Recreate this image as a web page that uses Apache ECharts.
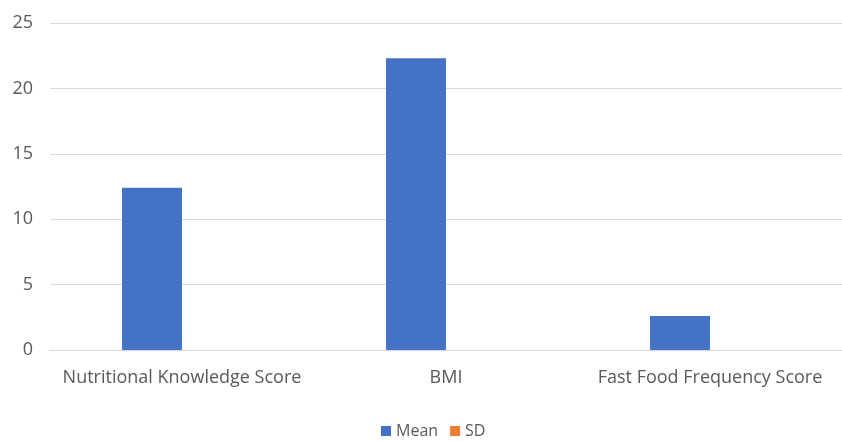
<!DOCTYPE html>
<html>
<head>
<meta charset="utf-8">
<script src="https://cdn.jsdelivr.net/npm/echarts@6/dist/echarts.min.js"></script>
<style>
  html, body { margin: 0; padding: 0; background: #fff; }
  #main { width: 842px; height: 441px; }
</style>
</head>
<body>
<div id="main"></div>
<script>
  // categories and series
  var categories = ['Nutritional Knowledge Score', 'BMI', 'Fast Food Frequency Score'];
  var meanData = [12.4, 22.3, 2.6];
  var sdData = [0, 0, 0];
  var yTicks = { min: 0, max: 25, interval: 5 };

  var font = '"Open Sans", "Liberation Sans", sans-serif';
  var textColor = '#595959';

  var option = {
    animation: false,
    grid: { left: 50, right: 0, top: 23, bottom: 91, containLabel: false },
    legend: {
      data: ['Mean', 'SD'],
      top: 418,
      left: 376,
      icon: 'rect',
      itemWidth: 10,
      itemHeight: 10,
      itemGap: 12,
      itemTextGap: 4,
      textStyle: { color: textColor, fontSize: 16, fontFamily: font }
    },
    xAxis: {
      type: 'category',
      data: categories,
      axisLine: { lineStyle: { color: '#d9d9d9' } },
      axisTick: { show: false },
      axisLabel: { color: textColor, fontSize: 18, fontFamily: font, margin: 19, interval: 0 }
    },
    yAxis: {
      type: 'value',
      min: yTicks.min,
      max: yTicks.max,
      interval: yTicks.interval,
      axisLine: { show: false },
      axisTick: { show: false },
      splitLine: { lineStyle: { color: '#d9d9d9' } },
      axisLabel: { color: textColor, fontSize: 18, fontFamily: font, margin: 17 }
    },
    series: [
      {
        name: 'Mean',
        type: 'bar',
        data: meanData,
        barWidth: 60,
        barGap: '0%',
        itemStyle: { color: '#4472C4' }
      },
      {
        name: 'SD',
        type: 'bar',
        data: sdData,
        barWidth: 60,
        itemStyle: { color: '#ED7D31' }
      }
    ]
  };

  var myChart = echarts.init(document.getElementById('main'));
  myChart.setOption(option);
</script>
</body>
</html>
